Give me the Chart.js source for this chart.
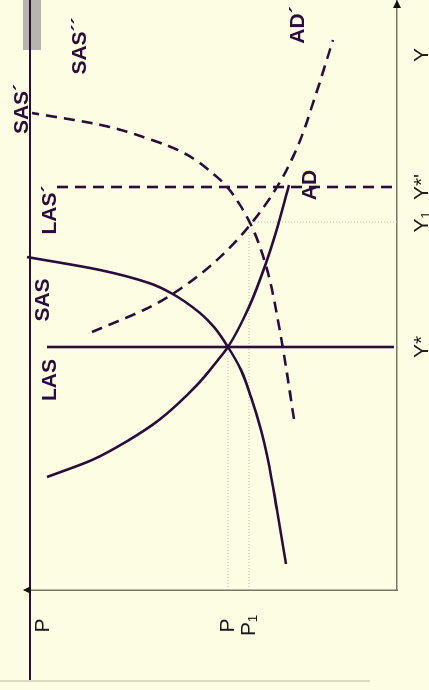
<!DOCTYPE html>
<html>
<head>
<meta charset="utf-8">
<script src="https://cdn.jsdelivr.net/npm/chart.js@4/dist/chart.umd.min.js"></script>
<style>
  html, body { margin:0; padding:0; background:#fdfde3; overflow:hidden; }
  #wrap { position:relative; width:429px; height:690px; background:#fdfde3; }
  #c { position:absolute; left:0; top:690px; width:690px; height:429px;
       transform-origin:0 0; transform:rotate(-90deg); }
</style>
</head>
<body>
<div id="wrap"><canvas id="c" width="690" height="429"></canvas></div>
<script>
// ---- data (original orientation: x = output Y, y = price level P) ----
const yTickValues = [243, 368, 403, 535];
const yTickLabels = ['Y*', 'Y\u2081', "Y*'", 'Y'];
const pTickValues = [148, 169, 354];
const pTickLabels = ['P\u2081', 'P', 'P'];

const lasY = [243, 243];        const lasP = [350, 3];
const las2Y = [403, 403];       const las2P = [340, 4];
const sasY = [26, 80, 130, 160, 193, 220, 243, 263, 277, 297, 307, 320, 333];
const sasP = [111, 120, 129, 136, 146, 156, 169, 183, 197, 226, 248, 297, 370];
const sas2Y = [171, 247, 313, 340, 363, 385, 402, 413, 438, 450, 465, 477];
const sas2P = [103, 115, 128, 136, 145, 157, 169, 180, 215, 245, 296, 365];
const adY = [113, 130, 150, 170, 205, 230, 243, 283, 327, 358, 405];
const adP = [350, 305, 268, 238, 200, 179, 169, 148, 131, 121, 108];
const ad2Y = [258, 283, 303, 330, 365, 403, 442, 490, 550];
const ad2P = [305, 247, 214, 180, 147, 120, 100, 83, 64];
// guide (dotted) lines
const guidePY = [0, 243];   const guidePP = [169, 169];
const guideP1Y = [0, 368];  const guideP1P = [148, 148];
const guideY1Y = [368, 368]; const guideY1P = [148, 0];
// slide decorations
const frameY = [-90, 590];  const frameP = [367, 367];
const barY = [540, 590];    const barP = [365, 365];
const baseY = [-91, -91];   const baseP = [397, 27];

const curveLabels = [
  {text:'SAS\u00B4\u00B4', x:544, y:317},
  {text:'SAS\u00B4', x:481, y:375},
  {text:'AD\u00B4', x:565, y:99},
  {text:'AD', x:405, y:87},
  {text:'LAS\u00B4', x:380, y:347},
  {text:'SAS', x:290, y:354},
  {text:'LAS', x:210, y:347}
];

const INK = '#2b0c3c';
const pts = (xs, ys) => xs.map((v, i) => ({x: v, y: ys[i]}));
const DASH = [11, 7];

function ds(xs, ys, extra) {
  return Object.assign({
    data: pts(xs, ys), showLine: true, pointRadius: 0, borderColor: INK,
    borderWidth: 2.6, fill: false, tension: 0, order: 1
  }, extra || {});
}

const labelPlugin = {
  id: 'curveLabels',
  afterDatasetsDraw(chart) {
    const {ctx, scales: {x, y}} = chart;
    ctx.save();
    ctx.fillStyle = INK;
    ctx.font = 'bold 21px "Liberation Sans", Arial, sans-serif';
    ctx.textAlign = 'center';
    ctx.textBaseline = 'middle';
    curveLabels.forEach(l => ctx.fillText(l.text, x.getPixelForValue(l.x), y.getPixelForValue(l.y)));
    // axis arrow heads
    ctx.fillStyle = '#111';
    const ex = x.getPixelForValue(590), ey = y.getPixelForValue(0);
    ctx.beginPath(); ctx.moveTo(ex, ey); ctx.lineTo(ex - 8, ey - 4); ctx.lineTo(ex - 8, ey + 4); ctx.closePath(); ctx.fill();
    const tx = x.getPixelForValue(0), ty = y.getPixelForValue(372);
    ctx.beginPath(); ctx.moveTo(tx, ty - 2); ctx.lineTo(tx - 4, ty + 6); ctx.lineTo(tx + 4, ty + 6); ctx.closePath(); ctx.fill();
    ctx.restore();
  }
};

const hiddenGrid = {display: true, drawOnChartArea: false, drawTicks: true, tickLength: 15, color: 'rgba(0,0,0,0)'};

new Chart(document.getElementById('c'), {
  type: 'scatter',
  data: {
    datasets: [
      ds(barY, barP, {borderColor: '#b5b5b0', borderWidth: 18, order: 10, clip: false, borderCapStyle: 'butt'}),
      ds(baseY, baseP, {borderColor: '#d9d9c2', borderWidth: 2, order: 9, clip: false}),
      ds(guidePY, guidePP, {borderColor: '#b9b9aa', borderWidth: 1, borderDash: [1, 2], order: 8}),
      ds(guideP1Y, guideP1P, {borderColor: '#b9b9aa', borderWidth: 1, borderDash: [1, 2], order: 8}),
      ds(guideY1Y, guideY1P, {borderColor: '#b9b9aa', borderWidth: 1, borderDash: [1, 2], order: 8}),
      ds(frameY, frameP, {borderWidth: 2, order: 2, clip: false}),
      ds(lasY, lasP),
      ds(las2Y, las2P, {borderDash: DASH}),
      ds(sasY, sasP, {cubicInterpolationMode: 'monotone'}),
      ds(sas2Y, sas2P, {borderDash: DASH, cubicInterpolationMode: 'monotone', clip: false}),
      ds(adY, adP, {cubicInterpolationMode: 'monotone'}),
      ds(ad2Y, ad2P, {borderDash: DASH, cubicInterpolationMode: 'monotone'})
    ]
  },
  options: {
    responsive: false,
    animation: false,
    devicePixelRatio: 1,
    layout: {padding: {top: 25, left: 0, right: 0, bottom: 0}},
    plugins: {legend: {display: false}, tooltip: {enabled: false}},
    scales: {
      x: {
        type: 'linear', min: 0, max: 590,
        grid: {display: false, drawTicks: false},
        border: {display: true, color: '#77776c', width: 1.5},
        afterFit: s => { s.height = 32; },
        afterBuildTicks: s => { s.ticks = yTickValues.map(v => ({value: v})); },
        ticks: {
          autoSkip: false, maxRotation: 0, minRotation: 0, padding: 13,
          color: '#1a1a1a', font: {size: 21, family: '"Liberation Sans", Arial, sans-serif'},
          callback: v => yTickLabels[yTickValues.indexOf(v)]
        }
      },
      y: {
        type: 'linear', min: 0, max: 372,
        grid: hiddenGrid,
        border: {display: true, color: '#77776c', width: 1.5},
        afterFit: s => { s.width = 100; },
        afterBuildTicks: s => { s.ticks = pTickValues.map(v => ({value: v})); },
        ticks: {
          autoSkip: false, padding: 10, crossAlign: 'center',
          color: '#1a1a1a', font: {size: 21, family: '"Liberation Sans", Arial, sans-serif'},
          callback: v => pTickLabels[pTickValues.indexOf(v)]
        }
      }
    }
  },
  plugins: [labelPlugin]
});
</script>
</body>
</html>
